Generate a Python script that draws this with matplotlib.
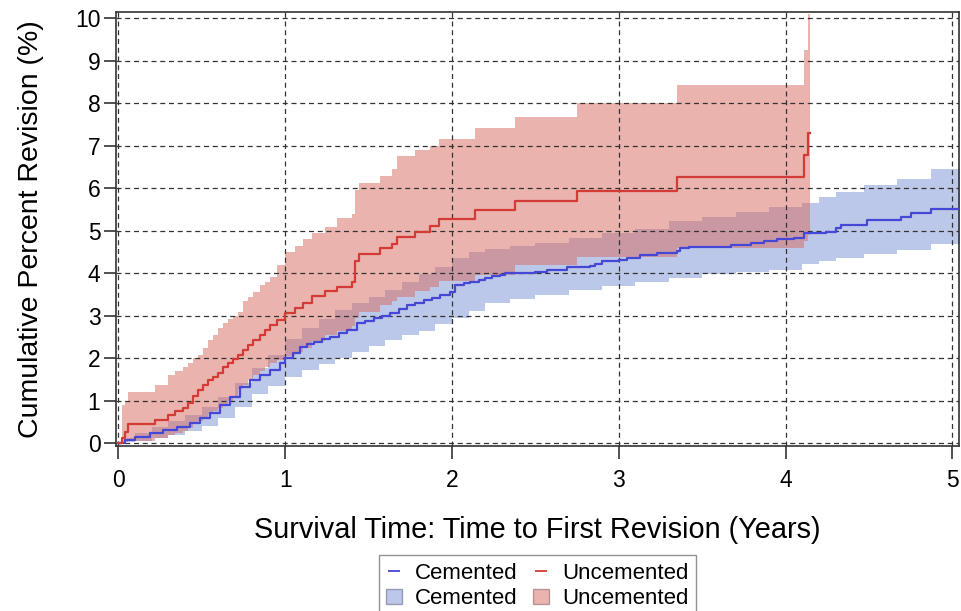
import numpy as np
import matplotlib
matplotlib.use("Agg")
import matplotlib.pyplot as plt
from matplotlib.lines import Line2D
from matplotlib.patches import Patch

plt.rcParams['font.family'] = ['Liberation Sans', 'DejaVu Sans']

# Kaplan-Meier cumulative revision (%) - cemented
t_c = [0.00, 0.04, 0.10, 0.19, 0.27, 0.35, 0.43, 0.49, 0.55, 0.61,
       0.67, 0.73, 0.79, 0.85, 0.91, 0.97, 1.00, 1.05, 1.09, 1.13,
       1.17, 1.22, 1.27, 1.32, 1.37, 1.43, 1.48, 1.53, 1.58, 1.63,
       1.68, 1.73, 1.78, 1.83, 1.88, 1.93, 1.99, 2.02, 2.07, 2.11,
       2.16, 2.20, 2.24, 2.29, 2.32, 2.50, 2.57, 2.69, 2.83, 2.86,
       2.90, 3.00, 3.05, 3.13, 3.23, 3.35, 3.37, 3.42, 3.67, 3.79,
       3.87, 3.95, 4.05, 4.11, 4.24, 4.30, 4.33, 4.49, 4.69, 4.75,
       4.87]
km_c = [0.00, 0.08, 0.16, 0.24, 0.31, 0.39, 0.49, 0.59, 0.71, 0.90,
        1.10, 1.33, 1.49, 1.61, 1.73, 1.88, 2.00, 2.12, 2.27, 2.33,
        2.39, 2.45, 2.51, 2.59, 2.67, 2.82, 2.88, 2.94, 3.00, 3.06,
        3.15, 3.25, 3.31, 3.37, 3.43, 3.49, 3.57, 3.73, 3.77, 3.80,
        3.84, 3.88, 3.93, 3.97, 4.00, 4.04, 4.08, 4.14, 4.18, 4.22,
        4.28, 4.31, 4.37, 4.42, 4.47, 4.53, 4.59, 4.62, 4.67, 4.72,
        4.77, 4.80, 4.83, 4.94, 4.98, 5.06, 5.14, 5.26, 5.33, 5.41,
        5.52]
end_c = 5.10

# 95% confidence band - cemented
tb_c = [0.00, 0.05, 0.10, 0.20, 0.30, 0.40, 0.50, 0.60, 0.70, 0.80,
        0.90, 1.00, 1.10, 1.20, 1.30, 1.40, 1.50, 1.60, 1.70, 1.80,
        1.90, 2.00, 2.10, 2.20, 2.35, 2.50, 2.70, 2.90, 3.10, 3.30,
        3.50, 3.70, 3.90, 4.10, 4.20, 4.30, 4.47, 4.67, 4.87]
lcl_c = [0.00, 0.03, 0.06, 0.12, 0.19, 0.28, 0.40, 0.60, 0.85, 1.15,
         1.36, 1.55, 1.72, 1.87, 2.01, 2.15, 2.30, 2.42, 2.55, 2.65,
         2.80, 2.95, 3.12, 3.30, 3.40, 3.50, 3.60, 3.70, 3.80, 3.90,
         3.98, 4.03, 4.08, 4.22, 4.28, 4.37, 4.45, 4.55, 4.68]
ucl_c = [0.00, 0.12, 0.24, 0.38, 0.52, 0.66, 0.85, 1.10, 1.42, 1.78,
         2.08, 2.45, 2.72, 2.93, 3.13, 3.30, 3.45, 3.60, 3.80, 3.98,
         4.15, 4.35, 4.50, 4.58, 4.65, 4.72, 4.82, 4.95, 5.05, 5.22,
         5.33, 5.45, 5.55, 5.65, 5.80, 5.92, 6.08, 6.22, 6.45]

# Kaplan-Meier cumulative revision (%) - uncemented, with 95% band
t_u = [0.00, 0.02, 0.04, 0.06, 0.22, 0.30, 0.34, 0.39,
       0.42, 0.45, 0.48, 0.51, 0.54, 0.57, 0.60, 0.63,
       0.66, 0.69, 0.72, 0.75, 0.78, 0.81, 0.85, 0.88,
       0.91, 0.95, 1.00, 1.06, 1.11, 1.16, 1.24, 1.31,
       1.40, 1.42, 1.44, 1.57, 1.64, 1.67, 1.78, 1.87,
       1.92, 2.14, 2.38, 2.75, 3.35, 4.11, 4.135]
km_u = [0.00, 0.12, 0.27, 0.46, 0.56, 0.66, 0.75, 0.84,
        0.96, 1.12, 1.25, 1.37, 1.49, 1.57, 1.66, 1.79,
        1.88, 1.98, 2.08, 2.19, 2.31, 2.43, 2.55, 2.66,
        2.78, 2.90, 3.06, 3.18, 3.30, 3.47, 3.59, 3.68,
        3.80, 4.30, 4.45, 4.60, 4.70, 4.86, 4.98, 5.11,
        5.28, 5.49, 5.71, 5.94, 6.27, 6.78, 7.29]
lcl_u = [0.00, 0.00, 0.02, 0.05, 0.12, 0.20, 0.25, 0.30,
         0.37, 0.45, 0.52, 0.60, 0.68, 0.75, 0.82, 0.90,
         1.00, 1.10, 1.28, 1.38, 1.50, 1.60, 1.70, 1.80,
         1.88, 1.95, 2.05, 2.15, 2.25, 2.40, 2.55, 2.65,
         2.75, 2.95, 3.10, 3.25, 3.35, 3.45, 3.58, 3.68,
         3.82, 3.95, 4.20, 4.39, 4.60, 4.75, 4.90]
ucl_u = [0.00, 0.90, 1.00, 1.20, 1.38, 1.60, 1.70, 1.80,
         1.90, 2.00, 2.08, 2.25, 2.43, 2.55, 2.72, 2.82,
         2.92, 3.00, 3.10, 3.35, 3.45, 3.57, 3.72, 3.80,
         3.92, 4.20, 4.50, 4.65, 4.80, 4.95, 5.10, 5.30,
         5.40, 5.95, 6.12, 6.30, 6.45, 6.75, 6.90, 7.00,
         7.15, 7.41, 7.68, 8.00, 8.43, 9.25, 10.10]
end_u = 4.148

x_ticks = [0, 1, 2, 3, 4, 5]
y_ticks = list(range(0, 11))

BLUE_LINE = '#4547D6'
RED_LINE = '#D43A36'
BLUE_BAND = '#7A93D4'
RED_BAND = '#D9695C'


def extend(t, *vals, end):
    # repeat last value up to end of follow-up so the last step has width
    out = [np.append(t, end)]
    for v in vals:
        out.append(np.append(v, v[-1]))
    return out


tc, kc = extend(t_c, km_c, end=end_c)
tbc, lc, uc = extend(tb_c, lcl_c, ucl_c, end=end_c)
tu, ku, lu, uu = extend(t_u, km_u, lcl_u, ucl_u, end=end_u)

fig = plt.figure(figsize=(9.62, 6.11), dpi=100)
ax = fig.add_axes([0.1203, 0.2705, 0.8770, 0.7094])

ax.fill_between(tbc, lc, uc, step='post', color=BLUE_BAND, alpha=0.5,
                linewidth=0, zorder=1)
ax.fill_between(tu, lu, uu, step='post', color=RED_BAND, alpha=0.5,
                linewidth=0, zorder=2)
ax.step(tc, kc, where='post', color=BLUE_LINE, lw=1.6, zorder=4)
ax.step(tu, ku, where='post', color=RED_LINE, lw=1.6, zorder=4)

ax.set_xlim(-0.0156, 5.042)
ax.set_ylim(-0.056, 10.14)
ax.set_xticks(x_ticks)
ax.set_yticks(y_ticks)
ax.tick_params(axis='both', labelsize=16.5, length=9, width=1.2,
               color='#333333')
ax.tick_params(axis='x', pad=8)
ax.tick_params(axis='y', pad=2)
ax.grid(True, color='#333333', linestyle=(0, (4, 3)), linewidth=0.9, zorder=3)
ax.set_axisbelow(False)
for s in ax.spines.values():
    s.set_color('#333333')
    s.set_linewidth(1.2)

ax.set_xlabel('Survival Time: Time to First Revision (Years)', fontsize=20.8,
              labelpad=17)
ax.set_ylabel('Cumulative Percent Revision (%)', fontsize=20.5, labelpad=22)

handles = [
    Line2D([], [], color=BLUE_LINE, marker='_', linestyle='None',
           markersize=9, markeredgewidth=1.3),
    Patch(facecolor=BLUE_BAND, alpha=0.5, edgecolor='#555577', linewidth=1),
    Line2D([], [], color=RED_LINE, marker='_', linestyle='None',
           markersize=9, markeredgewidth=1.3),
    Patch(facecolor=RED_BAND, alpha=0.5, edgecolor='#775555', linewidth=1),
]
labels = ['Cemented', 'Cemented', 'Uncemented', 'Uncemented']
leg = fig.legend(handles, labels, loc='upper center', ncol=2,
                 bbox_to_anchor=(537.5 / 962, 1 - 555 / 611),
                 fontsize=16, frameon=True, fancybox=False,
                 handlelength=0.7, handleheight=0.7, handletextpad=0.6,
                 columnspacing=0.7, labelspacing=0.2, borderpad=0.35,
                 borderaxespad=0)
leg.get_frame().set_edgecolor('#777777')
leg.get_frame().set_linewidth(1.0)

fig.savefig('out.png', dpi=100)
